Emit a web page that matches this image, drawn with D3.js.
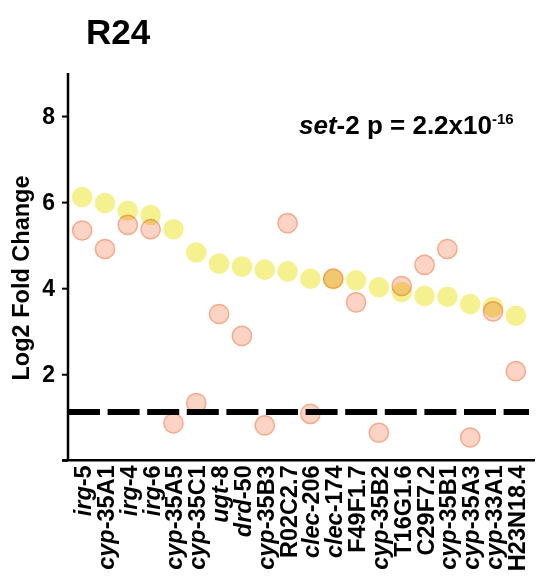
<!DOCTYPE html>
<html>
<head>
<meta charset="utf-8">
<script src="https://cdn.jsdelivr.net/npm/d3@7"></script>
<style>
  body { margin: 0; background: #fff; }
  svg { font-family: "Liberation Sans", Arial, sans-serif; }
</style>
</head>
<body>
<svg width="555" height="583"></svg>
<script>
// genes on the x axis, in plot order
const genes = ["irg-5", "cyp-35A1", "irg-4", "irg-6", "cyp-35A5", "cyp-35C1", "ugt-8", "drd-50",
  "cyp-35B3", "R02C2.7", "clec-206", "clec-174", "F49F1.7", "cyp-35B2", "T16G1.6", "C29F7.2",
  "cyp-35B1", "cyp-35A3", "cyp-33A1", "H23N18.4"];
// yellow points
const wtLfc = [6.12, 5.98, 5.80, 5.70, 5.37, 4.83, 4.57, 4.50, 4.43, 4.39,
  4.22, 4.21, 4.18, 4.02, 3.91, 3.82, 3.80, 3.63, 3.56, 3.36];
// pink points
const set2Lfc = [5.34, 4.91, 5.47, 5.37, 0.86, 1.33, 3.40, 2.89, 0.81, 5.51,
  1.08, 4.22, 3.67, 0.64, 4.05, 4.54, 4.91, 0.53, 3.46, 2.07];
const yTicks = [0, 2, 4, 6, 8];
const cutoff = 1.12;

var svg = d3.select("svg");

var x = d3.scalePoint()
          .domain(genes)
          .range([68, 530])
          .padding(0.62);

var y = d3.scaleLinear()
          .domain([0, 9])
          .range([460.3, 73]);

// title
svg.append("text")
   .attr("x", 86).attr("y", 44)
   .attr("font-size", 35).attr("font-weight", "bold")
   .text("R24");

// y axis
var yAxis = d3.axisLeft(y)
              .tickValues(yTicks)
              .tickSize(6)
              .tickPadding(7)
              .tickFormat(d => d === 0 ? "" : d);
var gy = svg.append("g")
   .attr("transform", "translate(68,0)")
   .call(yAxis);
gy.select(".domain").attr("stroke-width", 2.5).attr("d", "M0," + y(9) + "V" + y(0));
gy.selectAll(".tick line").attr("stroke-width", 2);
gy.selectAll(".tick text")
  .attr("font-size", 23).attr("font-weight", "bold")
  .attr("font-family", "Liberation Sans, Arial, sans-serif")
  .attr("fill", "#000");

svg.append("text")
   .attr("transform", "translate(29,278) rotate(-90)")
   .attr("text-anchor", "middle")
   .attr("font-size", 23.5).attr("font-weight", "bold")
   .text("Log2 Fold Change");

// x axis
var xAxis = d3.axisBottom(x).tickSize(0).tickSizeOuter(0);
var gx = svg.append("g")
   .attr("transform", "translate(0," + y(0) + ")")
   .call(xAxis);
gx.select(".domain").attr("stroke-width", 2.5).attr("d", "M62,0H535");
gx.selectAll(".tick text")
  .attr("font-size", 23.5).attr("font-weight", "bold")
  .attr("font-family", "Liberation Sans, Arial, sans-serif")
  .attr("fill", "#000")
  .attr("transform", "rotate(-90)")
  .attr("text-anchor", "end")
  .attr("x", -5).attr("y", 0).attr("dy", "0.36em")
  .each(function(d) {
      var t = d3.select(this).text(null);
      var m = d.match(/^([a-z]+)(-.*)$/);
      if (m) {
          t.append("tspan").attr("font-style", "italic").text(m[1]);
          t.append("tspan").text(m[2]);
      } else {
          t.append("tspan").text(d);
      }
  });

// cutoff line
svg.append("line")
   .attr("x1", 68).attr("x2", 529)
   .attr("y1", y(cutoff)).attr("y2", y(cutoff))
   .attr("stroke", "#000").attr("stroke-width", 6)
   .attr("stroke-dasharray", "32,7.6");

// points
var pts = svg.append("g");
pts.selectAll(".wt")
   .data(genes)
   .enter().append("circle")
   .attr("cx", d => x(d))
   .attr("cy", (d, i) => y(wtLfc[i]))
   .attr("r", 10.3)
   .attr("fill", "#f5f18e")
   .style("mix-blend-mode", "multiply");

pts.selectAll(".mut")
   .data(genes)
   .enter().append("circle")
   .attr("cx", d => x(d))
   .attr("cy", (d, i) => y(set2Lfc[i]))
   .attr("r", 9.6)
   .attr("fill", "#fcd4c6")
   .attr("stroke", "#f6aa8c")
   .attr("stroke-width", 1.5)
   .style("mix-blend-mode", "multiply");

// annotation
var ann = svg.append("text")
   .attr("x", 299).attr("y", 134)
   .attr("font-size", 26).attr("font-weight", "bold");
ann.append("tspan").attr("font-style", "italic").text("set");
ann.append("tspan").text("-2 p = 2.2x10");
ann.append("tspan").attr("font-size", 15).attr("dy", -10).text("-16");
</script>
</body>
</html>
